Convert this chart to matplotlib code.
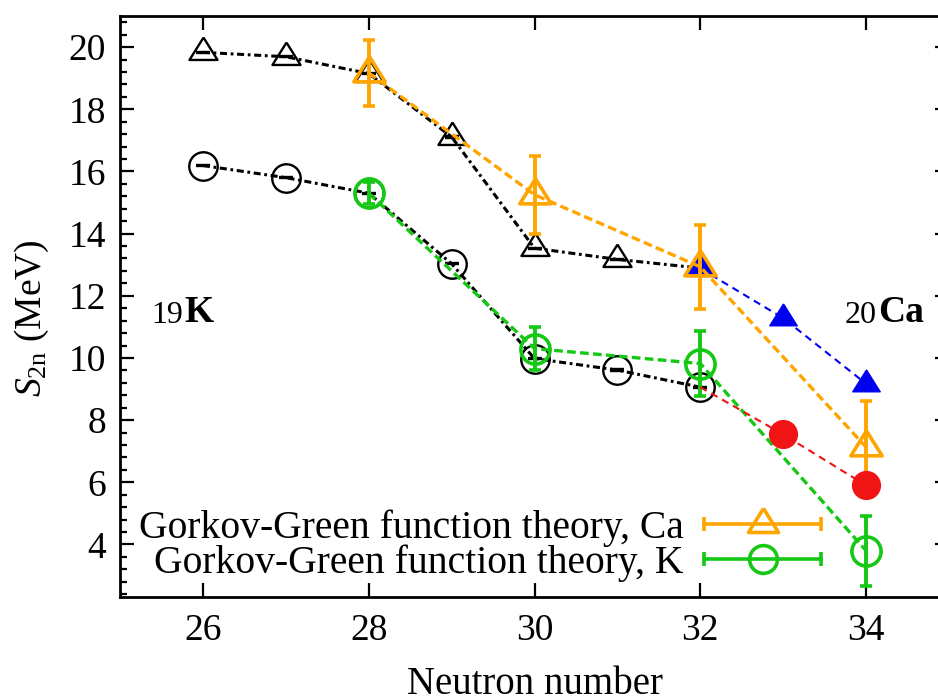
import matplotlib
matplotlib.use("Agg")
import matplotlib.pyplot as plt
from matplotlib.lines import Line2D
from matplotlib.legend_handler import HandlerBase

plt.rcParams['font.family'] = ['Liberation Serif', 'DejaVu Serif']
plt.rcParams['mathtext.fontset'] = 'custom'
plt.rcParams['mathtext.rm'] = 'Liberation Serif'
plt.rcParams['mathtext.it'] = 'Liberation Serif:italic'
plt.rcParams['mathtext.bf'] = 'Liberation Serif:bold'

# experiment (black)
n_exp = [26, 27, 28, 29, 30, 31, 32]
ca_exp = [19.83, 19.69, 19.15, 17.11, 13.53, 13.17, 12.89]
k_exp = [16.19, 15.80, 15.30, 13.03, 9.98, 9.61, 9.06]

# extrapolated / new values
n_new = [32, 33, 34]
ca_new = [12.88, 11.28, 9.17]
k_new = [9.06, 7.54, 5.90]

# Gorkov-Green theory
n_gg = [28, 30, 32, 34]
ca_gg = [19.17, 15.25, 12.93, 7.13]
ca_gg_err = [1.07, 1.25, 1.34, 1.50]
k_gg = [15.30, 10.30, 9.82, 3.80]
k_gg_err = [0.35, 0.70, 1.05, 1.13]

ORANGE = '#FFA500'
GREEN = '#14C814'
BLUE = '#0000F0'
RED = '#F01414'

# flat triangle, data point at its centroid (gnuplot style)
TRI = [(0, 1.0), (-0.94, -0.5), (0.94, -0.5), (0, 1.0)]


class HandlerXBar(HandlerBase):
    # legend key: horizontal bar with end caps and marker in the middle
    def __init__(self, marker, ms):
        super().__init__()
        self.marker = marker
        self.ms = ms

    def create_artists(self, legend, orig_handle, xdescent, ydescent,
                       width, height, fontsize, trans):
        c = orig_handle.get_color()
        y = height / 2 - ydescent
        x0, x1 = -xdescent, width - xdescent
        bar = Line2D([x0, x1], [y, y], color=c, lw=2.6)
        caps = Line2D([x0, x1], [y, y], ls='none', marker='|', ms=10,
                      mew=2.6, color=c)
        mk = Line2D([(x0 + x1) / 2], [y], ls='none', marker=self.marker,
                    ms=self.ms, mfc='none', mec=c, mew=2.6)
        for a in (bar, caps, mk):
            a.set_transform(trans)
        return [bar, caps, mk]


fig = plt.figure(figsize=(9.38, 6.99), dpi=100)
ax = fig.add_axes([120 / 938, 101.7 / 699, 829 / 938, 581.3 / 699])

dashdot = (2.3, 1.2, 0.9, 1.2)
ax.errorbar(n_exp, ca_exp, yerr=0.02, color='black', lw=2.2, dashes=dashdot,
            marker=TRI, ms=21.5, mfc='none', mew=1.7, capsize=5, capthick=1.7,
            elinewidth=1.7, zorder=2)
ax.errorbar(n_exp, k_exp, yerr=0.02, color='black', lw=2.2, dashes=dashdot,
            marker='o', ms=20.5, mfc='none', mew=1.7, capsize=5, capthick=1.7,
            elinewidth=1.7, zorder=2)

ax.plot(n_new, ca_new, color=BLUE, lw=1.5, dashes=(3.5, 2.5), marker=TRI,
        ms=21, mfc=BLUE, mec=BLUE, zorder=3)

ax.errorbar(n_gg, ca_gg, yerr=ca_gg_err, color=ORANGE, lw=2.4,
            dashes=(2.6, 1.3), marker=TRI, ms=24, mfc='none', mew=2.6,
            capsize=4, capthick=2.6, elinewidth=2.8, zorder=4)
ax.errorbar(n_gg, k_gg, yerr=k_gg_err, color=GREEN, lw=2.4,
            dashes=(2.6, 1.3), marker='o', ms=21, mfc='none', mew=2.6,
            capsize=4, capthick=2.6, elinewidth=2.8, zorder=4)

ax.plot(n_new, k_new, color=RED, lw=1.5, dashes=(3.5, 2.5), zorder=5)
ax.plot(n_new[1:], k_new[1:], ls='none', marker='o', ms=20, color=RED,
        zorder=5)

ax.set_xlim(25, 35)
ax.set_ylim(2.3, 21.0)
ax.set_xticks([26, 28, 30, 32, 34])
ax.set_yticks([4, 6, 8, 10, 12, 14, 16, 18, 20])
ax.set_yticks([y / 10 for y in range(24, 211, 4)], minor=True)
ax.tick_params(axis='both', which='both', direction='in', width=1.6,
               labelsize=27, top=True, right=True)
ax.tick_params(axis='both', which='major', length=10)
ax.tick_params(axis='both', which='minor', length=5)
ax.tick_params(axis='x', pad=12)
ax.tick_params(axis='y', pad=10)
for s in ax.spines.values():
    s.set_linewidth(2)

ax.set_xlabel('Neutron number', fontsize=28)
ax.set_ylabel(r'$S_{\mathrm{2n}}$ (MeV)', fontsize=27)
ax.xaxis.set_label_coords(0.5, -0.118)
ax.yaxis.set_label_coords(-0.083, 0.48)

t19 = ax.text(25.38, 11.12, '19', fontsize=23, va='baseline')
ax.annotate('K', xy=(1, 0), xycoords=t19, xytext=(1, 6),
            textcoords='offset points', fontsize=27, fontweight='bold',
            va='baseline')
t20 = ax.text(33.74, 11.12, '20', fontsize=23, va='baseline')
ax.annotate('Ca', xy=(1, 0), xycoords=t20, xytext=(1, 6),
            textcoords='offset points', fontsize=27, fontweight='bold',
            va='baseline')

h_ca = Line2D([], [], color=ORANGE)
h_k = Line2D([], [], color=GREEN)
ax.legend([h_ca, h_k],
          ['Gorkov-Green function theory, Ca',
           'Gorkov-Green function theory, K'],
          handler_map={h_ca: HandlerXBar(TRI, 23), h_k: HandlerXBar('o', 20)},
          loc='center right', bbox_to_anchor=(0.8456, 0.089),
          frameon=False, markerfirst=False, fontsize=28.5,
          handlelength=2.95, handletextpad=0.53, labelspacing=-0.08,
          borderpad=0, borderaxespad=0)

fig.savefig('out.png', dpi=100)
